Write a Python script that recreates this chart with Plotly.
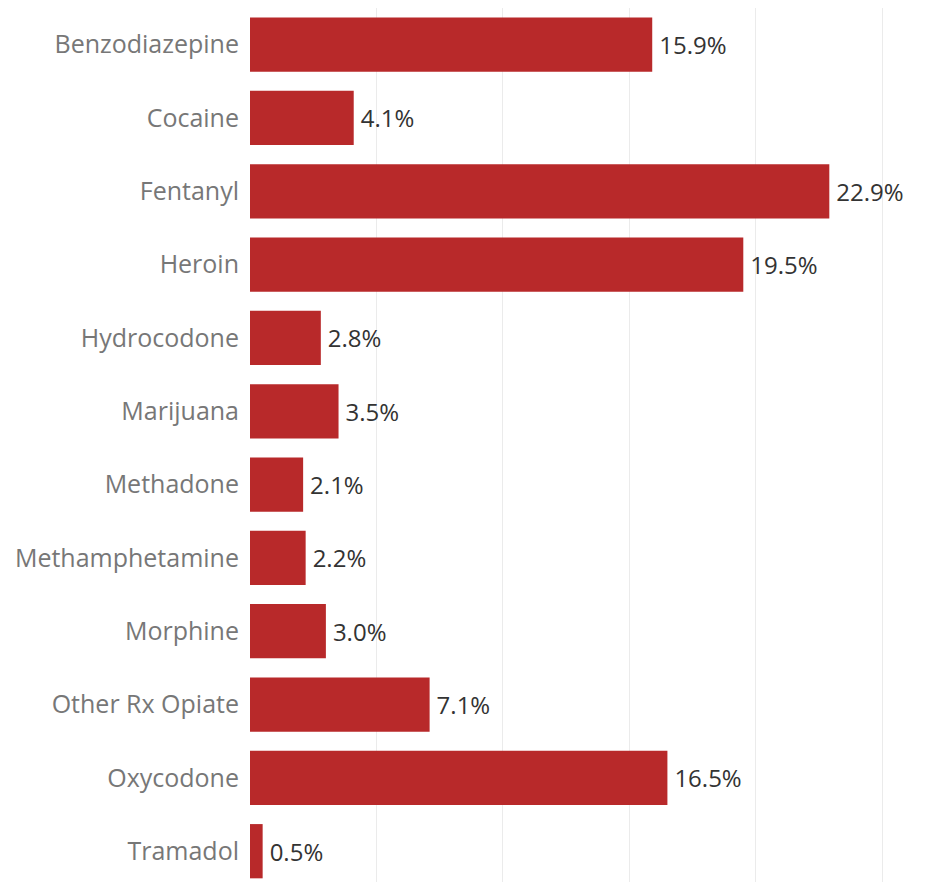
import plotly.graph_objects as go

categories = ["Benzodiazepine", "Cocaine", "Fentanyl", "Heroin", "Hydrocodone", "Marijuana",
              "Methadone", "Methamphetamine", "Morphine", "Other Rx Opiate", "Oxycodone", "Tramadol"]
values = [15.9, 4.1, 22.9, 19.5, 2.8, 3.5, 2.1, 2.2, 3.0, 7.1, 16.5, 0.5]
labels = [f"\u2009{v:.1f}%" for v in values]

FONT = "Open Sans, Noto Sans, sans-serif"

fig = go.Figure(go.Bar(
    x=values, y=categories, orientation="h",
    marker=dict(color="#B8292A", line=dict(width=0)),
    width=0.74,
    text=labels, textposition="outside", cliponaxis=False,
    textfont=dict(family=FONT, size=24, color="#333333"),
    hoverinfo="skip",
))

fig.update_layout(
    width=922, height=874,
    margin=dict(l=242, r=0, t=0, b=0),
    paper_bgcolor="white", plot_bgcolor="white",
    showlegend=False,
    font=dict(family=FONT),
)
fig.update_xaxes(range=[0, 26.88], tickvals=[0, 5, 10, 15, 20, 25], showticklabels=False,
                 showgrid=True, gridcolor="#EBEBEB", gridwidth=1, zeroline=False, showline=False)
fig.update_yaxes(type="category", categoryorder="array", categoryarray=categories,
                 range=[11.42, -0.5], showgrid=False, zeroline=False, showline=False,
                 ticks="", ticklabelstandoff=10,
                 tickfont=dict(family=FONT, size=25, color="#777777"))

fig.write_html("out.html")
